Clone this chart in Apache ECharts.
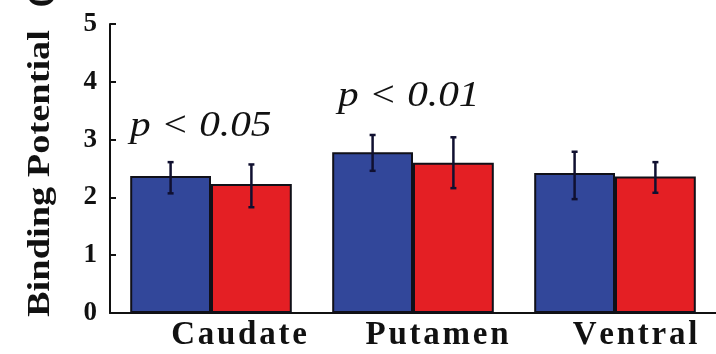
<!DOCTYPE html>
<html>
<head>
<meta charset="utf-8">
<script src="https://cdn.jsdelivr.net/npm/echarts@6/dist/echarts.min.js"></script>
<style>html,body{margin:0;padding:0;background:#fff}#c{width:716px;height:354px}</style>
</head>
<body>
<div id="c"></div>
<script>
const categories = ['Caudate', 'Putamen', 'Ventral'];
const blueValues = [2.37, 2.78, 2.42];
const redValues = [2.23, 2.60, 2.36];
const blueErrLow = [2.07, 2.46, 1.97];
const blueErrHigh = [2.61, 3.08, 2.79];
const redErrLow = [1.83, 2.16, 2.08];
const redErrHigh = [2.57, 3.04, 2.61];
const yTicks = [0, 1, 2, 3, 4, 5];
const annotations = ['p < 0.05', 'p < 0.01'];

const serif = '"Liberation Serif", "Times New Roman", serif';
const ink = '#111';

function errSeries(low, high, sign) {
  return {
    type: 'custom',
    z: 10,
    data: categories.map((c, i) => [i, low[i], high[i]]),
    renderItem: function (params, api) {
      const band = api.size([1, 0])[0];
      const cx = api.coord([api.value(0), 0])[0] + sign * band * 0.2;
      const yl = api.coord([api.value(0), api.value(1)])[1];
      const yh = api.coord([api.value(0), api.value(2)])[1];
      const cap = 3;
      const st = { stroke: '#101030', lineWidth: 2.5 };
      return {
        type: 'group',
        children: [
          { type: 'line', shape: { x1: cx, y1: yh, x2: cx, y2: yl }, style: st },
          { type: 'line', shape: { x1: cx - cap, y1: yh, x2: cx + cap, y2: yh }, style: st },
          { type: 'line', shape: { x1: cx - cap, y1: yl, x2: cx + cap, y2: yl }, style: st }
        ]
      };
    }
  };
}

const labelShift = [56, 48, 40];
const rich = {};
labelShift.forEach((s, i) => {
  rich['l' + i] = { padding: [0, 0, 0, s], fontSize: 33, fontWeight: 'bold', fontFamily: serif, color: ink };
});
const spaced = s => s.split('').join('\u200A');

const chart = echarts.init(document.getElementById('c'), null, { renderer: 'canvas' });
chart.setOption({
  animation: false,
  backgroundColor: '#fff',
  grid: { left: 110, right: -5, top: 24, bottom: 41, containLabel: false },
  xAxis: {
    type: 'category',
    data: categories,
    axisLine: { lineStyle: { color: ink, width: 2 } },
    axisTick: { inside: true, length: 5, lineStyle: { color: ink, width: 1.5 } },
    axisLabel: {
      interval: 0, margin: 6,
      fontSize: 33, fontWeight: 'bold', fontFamily: serif, color: ink,
      formatter: (v, i) => '{l' + i + '|' + spaced(v) + '}',
      rich: rich
    }
  },
  yAxis: {
    type: 'value',
    min: yTicks[0], max: yTicks[yTicks.length - 1], interval: 1,
    splitLine: { show: false },
    axisLine: { show: true, lineStyle: { color: ink, width: 2 } },
    axisTick: { show: true, inside: true, length: 6, lineStyle: { color: ink, width: 2 } },
    axisLabel: { margin: 13, fontSize: 27, fontWeight: 'bold', fontFamily: serif, color: ink }
  },
  graphic: [
    {
      type: 'text', x: 41, y: 317, rotation: Math.PI / 2, scaleX: 1.2,
      style: { text: 'Binding Potential  \u200A(', fontSize: 32, fontWeight: 'bold', fontFamily: serif, fill: ink, align: 'left', verticalAlign: 'middle' }
    },
    {
      type: 'text', x: 130, y: 127, scaleX: 1.18,
      style: { text: annotations[0], fontSize: 35, fontStyle: 'italic', fontFamily: serif, fill: ink, align: 'left', verticalAlign: 'middle' }
    },
    {
      type: 'text', x: 338, y: 97, scaleX: 1.18,
      style: { text: annotations[1], fontSize: 35, fontStyle: 'italic', fontFamily: serif, fill: ink, align: 'left', verticalAlign: 'middle' }
    }
  ],
  series: [
    {
      type: 'bar', data: blueValues, barWidth: '40%', barGap: '0%',
      itemStyle: { color: '#32479a', borderColor: '#101018', borderWidth: 2 }
    },
    {
      type: 'bar', data: redValues, barWidth: '40%', barGap: '0%',
      itemStyle: { color: '#e41f24', borderColor: '#101018', borderWidth: 2 }
    },
    errSeries(blueErrLow, blueErrHigh, -1),
    errSeries(redErrLow, redErrHigh, 1)
  ]
});
</script>
</body>
</html>
